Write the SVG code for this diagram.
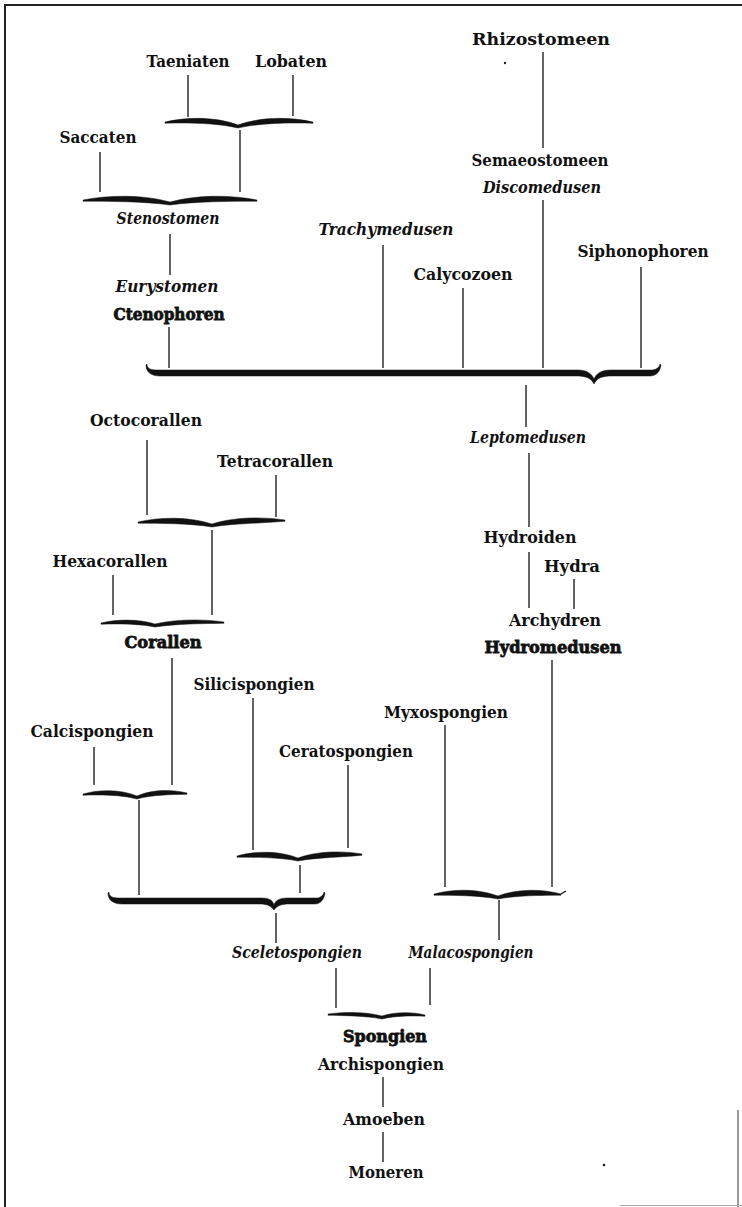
<svg xmlns="http://www.w3.org/2000/svg" width="742" height="1207" viewBox="0 0 742 1207">
<style>
text{font-family:"DejaVu Serif","Liberation Serif",serif;font-size:16.5px;font-weight:bold;fill:#111;text-anchor:middle}
.i{font-style:italic}
.b{stroke:#111;stroke-width:0.8px}
.ln{stroke:#111;stroke-width:1.3;fill:none}
.br{fill:#111;stroke:#111;stroke-width:0.5}
</style>
<rect width="742" height="1207" fill="#fff"/>
<g id="frame">
<line x1="4" y1="5" x2="742" y2="5" stroke="#222" stroke-width="2"/>
<line x1="5" y1="4" x2="5" y2="1207" stroke="#222" stroke-width="2"/>
<line x1="738" y1="1110" x2="738" y2="1207" stroke="#555" stroke-width="1.2"/>
<line x1="620" y1="1205.5" x2="742" y2="1205.5" stroke="#aaa" stroke-width="1"/>
<circle cx="505" cy="63" r="1.2" fill="#222"/>
<circle cx="604" cy="1165" r="1.3" fill="#222"/>
</g>
<g id="connectors">
<line class="ln" x1="188" y1="75" x2="188" y2="117"/>
<line class="ln" x1="293" y1="75" x2="293" y2="116"/>
<line class="ln" x1="240" y1="130" x2="240" y2="192"/>
<line class="ln" x1="100" y1="152" x2="100" y2="192"/>
<line class="ln" x1="170" y1="234" x2="170" y2="275"/>
<line class="ln" x1="543" y1="52" x2="543" y2="148"/>
<line class="ln" x1="543" y1="200" x2="543" y2="368"/>
<line class="ln" x1="169" y1="327" x2="169" y2="368"/>
<line class="ln" x1="383" y1="245" x2="383" y2="368"/>
<line class="ln" x1="463" y1="288" x2="463" y2="368"/>
<line class="ln" x1="641" y1="267" x2="641" y2="368"/>
<line class="ln" x1="526" y1="385" x2="526" y2="427"/>
<line class="ln" x1="529" y1="453" x2="529" y2="527"/>
<line class="ln" x1="529" y1="552" x2="529" y2="608"/>
<line class="ln" x1="574" y1="579" x2="574" y2="609"/>
<line class="ln" x1="552" y1="660" x2="552" y2="887"/>
<line class="ln" x1="445" y1="725" x2="445" y2="887"/>
<line class="ln" x1="499" y1="900" x2="499" y2="940"/>
<line class="ln" x1="147" y1="440" x2="147" y2="515"/>
<line class="ln" x1="276" y1="475" x2="276" y2="517"/>
<line class="ln" x1="212" y1="530" x2="212" y2="615"/>
<line class="ln" x1="113" y1="575" x2="113" y2="615"/>
<line class="ln" x1="172" y1="658" x2="172" y2="785"/>
<line class="ln" x1="94" y1="747" x2="94" y2="785"/>
<line class="ln" x1="139" y1="800" x2="139" y2="895"/>
<line class="ln" x1="253" y1="698" x2="253" y2="850"/>
<line class="ln" x1="348" y1="765" x2="348" y2="848"/>
<line class="ln" x1="300" y1="865" x2="300" y2="893"/>
<line class="ln" x1="276" y1="913" x2="276" y2="943"/>
<line class="ln" x1="336" y1="968" x2="336" y2="1008"/>
<line class="ln" x1="430" y1="968" x2="430" y2="1005"/>
<line class="ln" x1="383" y1="1077" x2="383" y2="1107"/>
<line class="ln" x1="383" y1="1132" x2="383" y2="1162"/>
<path class="br" d="M165,122 C186.9,116.7 216.1,116.7 238,125 C260.5,116.7 290.5,116.7 313,122 L313,123.2 C290.5,122.7 260.5,122.7 238,128 C216.1,122.7 186.9,122.7 165,123.2 Z"/>
<path class="br" d="M83,200 C109.1,194.7 143.9,194.7 170,202 C196.1,194.7 230.9,194.7 257,200 L257,201.2 C230.9,201.3 196.1,201.3 170,205 C143.9,201.3 109.1,201.3 83,201.2 Z"/>
<path class="br" d="M147,364 C147,369 151,370 158,370 L578,370 C587,370 592,374 594,379 C596,374 601,370 610,370 L650,370 C656,370 659,368 660,364 L661,365 C660,372 656,376 650,376 L612,376 C602,376 597,378 594,384 C591,378 586,376 576,376 L160,376 C151,376 146,372 146,365 Z"/>
<path class="br" d="M138,522 C160.2,516.7 189.8,516.7 212,524 C233.9,516.7 263.1,516.7 285,520 L285,521.2 C263.1,523.3 233.9,523.3 212,527 C189.8,523.3 160.2,523.3 138,523.2 Z"/>
<path class="br" d="M101,623 C117.2,619 138.8,619 155,624 C175.7,619 203.3,619 224,622 L224,623.2 C203.3,623.7 175.7,623.7 155,627 C138.8,623.7 117.2,623.7 101,624.2 Z"/>
<path class="br" d="M83,794 C99.2,789.3 120.8,789.3 137,796 C152,789.3 172,789.3 187,793 L187,794.2 C172,794.6 152,794.6 137,799 C120.8,794.6 99.2,794.6 83,795.2 Z"/>
<path class="br" d="M237,856 C255.3,850.7 279.7,850.7 298,858 C317.2,850.7 342.8,850.7 362,854 L362,855.2 C342.8,857.3 317.2,857.3 298,861 C279.7,857.3 255.3,857.3 237,857.2 Z"/>
<path class="br" d="M434,894 C453.2,888.7 478.8,888.7 498,896 C516.9,888.7 542.1,888.7 561,894 L561,895.2 C542.1,895.3 516.9,895.3 498,899 C478.8,895.3 453.2,895.3 434,895.2 Z"/>
<path class="ln" d="M561,894 L566,891" stroke-width="0.8"/>
<path class="br" d="M109,892 C109,897 113,898 120,898 L262,898 C270,898 273,901 274,905 C275,901 279,898 287,898 L316,898 C320,898 323,896 324,892 L325,893 C324,900 320,904 315,904 L289,904 C281,904 277,906 274,910 C271,906 267,904 260,904 L122,904 C113,904 108,900 108,893 Z"/>
<path class="br" d="M328,1014 C344.2,1011.7 365.8,1011.7 382,1016 C394.9,1011.7 412.1,1011.7 425,1015 L425,1016.2 C412.1,1015.7 394.9,1015.7 382,1019 C365.8,1015.7 344.2,1015.7 328,1015.2 Z"/>
</g>
<g id="n-taeniaten"><text x="188" y="67" textLength="83" lengthAdjust="spacingAndGlyphs">Taeniaten</text></g>
<g id="n-lobaten"><text x="291" y="67" textLength="72" lengthAdjust="spacingAndGlyphs">Lobaten</text></g>
<g id="n-saccaten"><text x="98" y="143" textLength="77" lengthAdjust="spacingAndGlyphs">Saccaten</text></g>
<g id="n-stenostomen"><text class="i" x="168" y="224" textLength="103" lengthAdjust="spacingAndGlyphs">Stenostomen</text></g>
<g id="n-eurystomen"><text class="i" x="167" y="292" textLength="103" lengthAdjust="spacingAndGlyphs">Eurystomen</text></g>
<g id="n-ctenophoren"><text class="b" x="169" y="320" textLength="111" lengthAdjust="spacingAndGlyphs">Ctenophoren</text></g>
<g id="n-rhizostomeen"><text x="541" y="45" textLength="138" lengthAdjust="spacingAndGlyphs">Rhizostomeen</text></g>
<g id="n-semaeostomeen"><text x="540" y="166" textLength="137" lengthAdjust="spacingAndGlyphs">Semaeostomeen</text></g>
<g id="n-discomedusen"><text class="i" x="542" y="193" textLength="118" lengthAdjust="spacingAndGlyphs">Discomedusen</text></g>
<g id="n-trachymedusen"><text class="i" x="386" y="235" textLength="135" lengthAdjust="spacingAndGlyphs">Trachymedusen</text></g>
<g id="n-calycozoen"><text x="463" y="280" textLength="99" lengthAdjust="spacingAndGlyphs">Calycozoen</text></g>
<g id="n-siphonophoren"><text x="643" y="257" textLength="131" lengthAdjust="spacingAndGlyphs">Siphonophoren</text></g>
<g id="n-leptomedusen"><text class="i" x="528" y="443" textLength="116" lengthAdjust="spacingAndGlyphs">Leptomedusen</text></g>
<g id="n-hydroiden"><text x="530" y="543" textLength="93" lengthAdjust="spacingAndGlyphs">Hydroiden</text></g>
<g id="n-hydra"><text x="572" y="572" textLength="56" lengthAdjust="spacingAndGlyphs">Hydra</text></g>
<g id="n-archydren"><text x="555" y="626" textLength="92" lengthAdjust="spacingAndGlyphs">Archydren</text></g>
<g id="n-hydromedusen"><text class="b" x="553" y="653" textLength="137" lengthAdjust="spacingAndGlyphs">Hydromedusen</text></g>
<g id="n-octocorallen"><text x="146" y="426" textLength="112" lengthAdjust="spacingAndGlyphs">Octocorallen</text></g>
<g id="n-tetracorallen"><text x="275" y="467" textLength="116" lengthAdjust="spacingAndGlyphs">Tetracorallen</text></g>
<g id="n-hexacorallen"><text x="110" y="567" textLength="115" lengthAdjust="spacingAndGlyphs">Hexacorallen</text></g>
<g id="n-corallen"><text class="b" x="163" y="648" textLength="77" lengthAdjust="spacingAndGlyphs">Corallen</text></g>
<g id="n-silicispongien"><text x="254" y="690" textLength="121" lengthAdjust="spacingAndGlyphs">Silicispongien</text></g>
<g id="n-calcispongien"><text x="92" y="737" textLength="123" lengthAdjust="spacingAndGlyphs">Calcispongien</text></g>
<g id="n-ceratospongien"><text x="346" y="757" textLength="134" lengthAdjust="spacingAndGlyphs">Ceratospongien</text></g>
<g id="n-myxospongien"><text x="446" y="718" textLength="124" lengthAdjust="spacingAndGlyphs">Myxospongien</text></g>
<g id="n-sceletospongien"><text class="i" x="297" y="958" textLength="130" lengthAdjust="spacingAndGlyphs">Sceletospongien</text></g>
<g id="n-malacospongien"><text class="i" x="471" y="958" textLength="125" lengthAdjust="spacingAndGlyphs">Malacospongien</text></g>
<g id="n-spongien"><text class="b" x="385" y="1042" textLength="84" lengthAdjust="spacingAndGlyphs">Spongien</text></g>
<g id="n-archispongien"><text x="381" y="1070" textLength="126" lengthAdjust="spacingAndGlyphs">Archispongien</text></g>
<g id="n-amoeben"><text x="384" y="1125" textLength="82" lengthAdjust="spacingAndGlyphs">Amoeben</text></g>
<g id="n-moneren"><text x="386" y="1178" textLength="75" lengthAdjust="spacingAndGlyphs">Moneren</text></g>
</svg>
